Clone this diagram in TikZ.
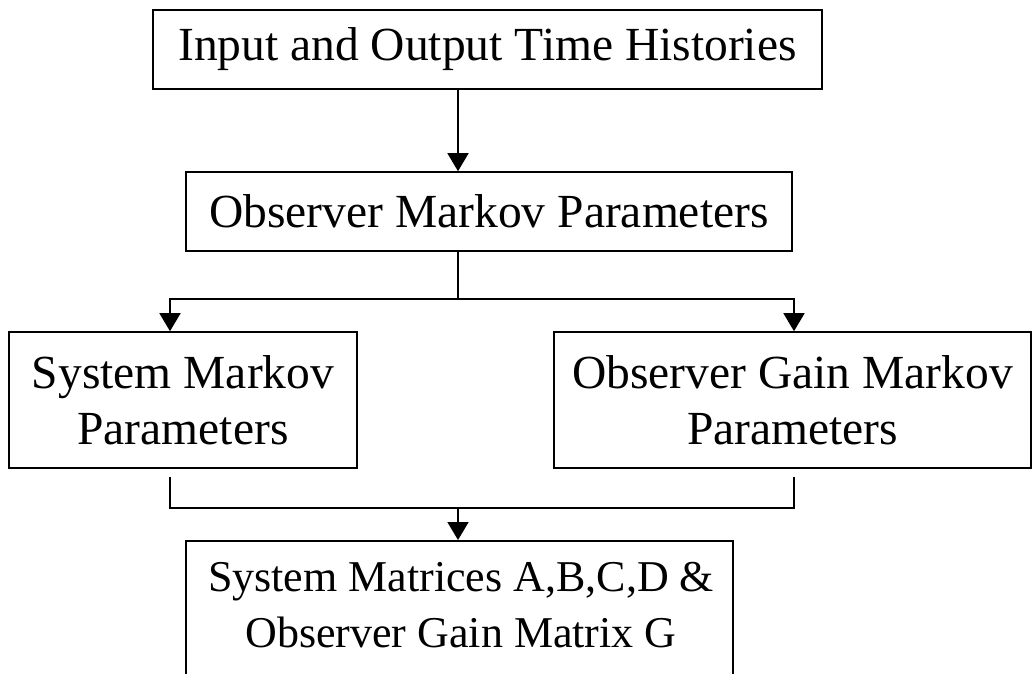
\documentclass[tikz,border=0pt]{standalone}
\usepackage{fontspec}
\setmainfont{Liberation Serif}
\usetikzlibrary{arrows.meta}
\begin{document}
\begin{tikzpicture}[x=1pt,y=-1pt,
  txt/.style={inner sep=0pt, align=center, font=\fontsize{47.5}{56}\selectfont},
  box/.style={txt, draw, line width=1.6pt},
  link/.style={line width=1.6pt},
  arr/.style={link, -{Triangle[length=18pt,width=21pt]}}]
\useasboundingbox (0,0) rectangle (1032,673);
\clip (0,0) rectangle (1032,673);
\node[box, minimum width=669pt, minimum height=79pt] (b1) at (487.5,49.5) {Input and Output Time Histories};
\node[box, minimum width=606pt, minimum height=79pt] (b2) at (489,211.5) {Observer Markov Parameters};
\node[box, minimum width=348pt, minimum height=136pt] (b3) at (183,400) {System Markov\\Parameters};
\node[box, minimum width=477pt, minimum height=136pt] (b4) at (792.5,400) {Observer Gain Markov\\Parameters};
\node[box, minimum width=547pt, minimum height=170pt, anchor=north] (b5) at (459.5,540) {};
\node[txt, font=\fontsize{44}{56}\selectfont] (t5) at (461,605) {System Matrices A,B,C,D \&\\Observer Gain Matrix G};
\coordinate (ax) at (458,0);
\coordinate (l1) at (170,0);
\coordinate (r1) at (794,0);
\coordinate (j1) at (458,299);
\coordinate (j2) at (458,508);
\draw[arr] (b1.south -| ax) -- (b2.north -| ax);
\draw[link] (b2.south -| ax) -- (j1);
\draw[arr] (j1) -| (b3.north -| l1);
\draw[arr] (j1) -| (b4.north -| r1);
\draw[link] (b3.south -| l1) ++(0,8) |- (j2);
\draw[link] (b4.south -| r1) ++(0,8) |- (j2);
\draw[arr] (j2) -- (b5.north -| ax);
\end{tikzpicture}
\end{document}
